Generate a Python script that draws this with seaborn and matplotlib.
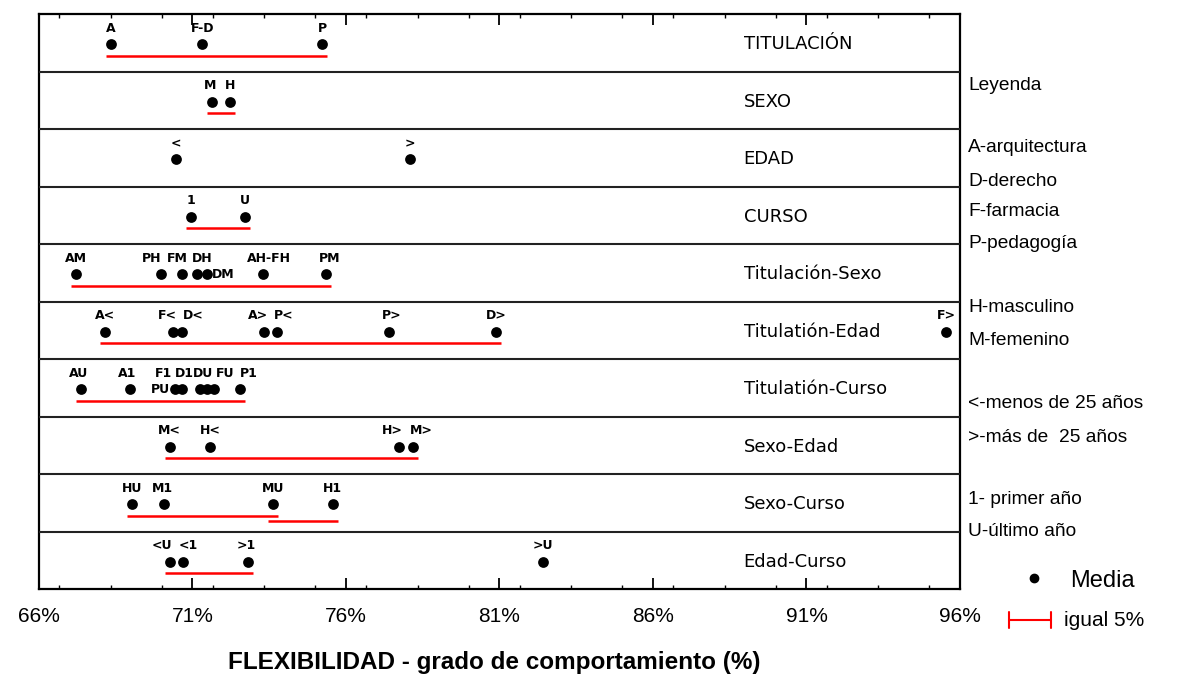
import matplotlib
matplotlib.use("Agg")
import matplotlib.pyplot as plt
from matplotlib.ticker import MultipleLocator, FixedLocator, FuncFormatter
import seaborn as sns
import pandas as pd

# ---------------- data ----------------
panel_names = ["TITULACIÓN", "SEXO", "EDAD", "CURSO", "Titulación-Sexo",
               "Titulatión-Edad", "Titulatión-Curso", "Sexo-Edad", "Sexo-Curso", "Edad-Curso"]

titulacion_labels = ["A", "F-D", "P"]
titulacion_values = [68.35, 71.32, 75.22]
sexo_labels = ["M", "H"]
sexo_values = [71.62, 72.23]
edad_labels = ["<", ">"]
edad_values = [70.45, 78.08]
curso_labels = ["1", "U"]
curso_values = [70.94, 72.72]
tit_sexo_labels = ["AM", "PH", "FM", "DH", "DM", "AH-FH", "PM"]
tit_sexo_values = [67.20, 69.96, 70.66, 71.15, 71.48, 73.31, 75.35]
tit_edad_labels = ["A<", "F<", "D<", "A>", "P<", "P>", "D>", "F>"]
tit_edad_values = [68.14, 70.37, 70.66, 73.32, 73.75, 77.40, 80.90, 95.55]
tit_curso_labels = ["AU", "A1", "PU", "F1", "D1", "DU", "FU", "P1"]
tit_curso_values = [67.36, 68.95, 70.42, 70.67, 71.26, 71.48, 71.69, 72.56]
sexo_edad_labels = ["M<", "H<", "H>", "M>"]
sexo_edad_values = [70.26, 71.58, 77.73, 78.19]
sexo_curso_labels = ["HU", "M1", "MU", "H1"]
sexo_curso_values = [69.04, 70.07, 73.61, 75.57]
edad_curso_labels = ["<U", "<1", ">1", ">U"]
edad_curso_values = [70.26, 70.68, 72.80, 82.42]

# homogeneous groups (red lines): first and last member of each group
groups = {
    0: [("A", "P")],
    1: [("M", "H")],
    3: [("1", "U")],
    4: [("AM", "PM")],
    5: [("A<", "D>")],
    6: [("AU", "P1")],
    7: [("M<", "M>")],
    8: [("HU", "MU"), ("MU", "H1")],
    9: [("<U", ">1")],
}

tick_values = [66, 71, 76, 81, 86, 91, 96]

legend_lines = ["Leyenda", "A-arquitectura", "D-derecho", "F-farmacia", "P-pedagogía",
                "H-masculino", "M-femenino", "<-menos de 25 años", ">-más de  25 años",
                "1- primer año", "U-último año"]

all_labels = [titulacion_labels, sexo_labels, edad_labels, curso_labels, tit_sexo_labels,
              tit_edad_labels, tit_curso_labels, sexo_edad_labels, sexo_curso_labels,
              edad_curso_labels]
all_values = [titulacion_values, sexo_values, edad_values, curso_values, tit_sexo_values,
              tit_edad_values, tit_curso_values, sexo_edad_values, sexo_curso_values,
              edad_curso_values]

# ---------------- styling ----------------
sns.set_style("white")
plt.rcParams['font.family'] = ['Liberation Sans', 'DejaVu Sans']
plt.rcParams['text.color'] = 'black'
plt.rcParams['xtick.color'] = 'black'

W, H = 1177, 677
fig = plt.figure(figsize=(W / 100, H / 100), dpi=100)
ax_l, ax_r, ax_t, ax_b = 39, 960, 14, 589
ax = fig.add_axes([ax_l / W, 1 - ax_b / H, (ax_r - ax_l) / W, (ax_b - ax_t) / H])

npan = len(panel_names)
point_frac = 0.47
line_frac = 0.27
line2_frac = 0.18

rows = []
for i, (labs, vals) in enumerate(zip(all_labels, all_values)):
    for lab, v in zip(labs, vals):
        rows.append({"panel": panel_names[i], "idx": i, "label": lab, "value": v,
                     "ypos": npan - 1 - i + point_frac})
df = pd.DataFrame(rows)

sns.scatterplot(data=df, x="value", y="ypos", color="black", s=60, linewidth=0,
                ax=ax, legend=False, zorder=5)

# label offsets in pixels (layout only)
label_dx = {(4, "PH"): -9, (4, "FM"): -5, (4, "DH"): 5, (4, "AH-FH"): 6, (4, "PM"): 4,
            (5, "F<"): -6, (5, "D<"): 11, (5, "A>"): -6, (5, "P<"): 7, (5, "P>"): 3,
            (6, "AU"): -2, (6, "A1"): -2, (6, "F1"): -19, (6, "D1"): -16, (6, "DU"): -4,
            (6, "FU"): 11, (6, "P1"): 8, (7, "H>"): -7, (7, "M>"): 8, (8, "M1"): -2,
            (9, "<U"): -8, (9, "<1"): 6, (9, ">1"): -2, (1, "M"): -1}
side_right = {(4, "DM")}
side_left = {(6, "PU")}

lab_font = dict(fontsize=9, fontweight="bold", family=['DejaVu Sans'], color="black")
for _, r in df.iterrows():
    key = (r["idx"], r["label"])
    if key in side_right:
        ax.annotate(r["label"], (r["value"], r["ypos"]), xytext=(5, 0),
                    textcoords="offset pixels", ha="left", va="center", **lab_font)
    elif key in side_left:
        ax.annotate(r["label"], (r["value"], r["ypos"]), xytext=(-5, 0),
                    textcoords="offset pixels", ha="right", va="center", **lab_font)
    else:
        ax.annotate(r["label"], (r["value"], r["ypos"]), xytext=(label_dx.get(key, 0), 16),
                    textcoords="offset pixels", ha="center", va="center", **lab_font)

# red homogeneity lines
pad = 0.16
for i, glist in groups.items():
    vals = dict(zip(all_labels[i], all_values[i]))
    for k, (a, b) in enumerate(glist):
        y = npan - 1 - i + (line_frac if k == 0 else line2_frac)
        ax.hlines(y, vals[a] - pad, vals[b] + pad, color="#ff0000", lw=1.8, zorder=4)

# panel separators and names
for k in range(1, npan):
    ax.axhline(k, color="#222222", lw=1.5, zorder=3)
for i, name in enumerate(panel_names):
    ax.text(0.765, (npan - 1 - i + 0.47) / npan, name, transform=ax.transAxes,
            ha="left", va="center", fontsize=13, color="black", family=['DejaVu Sans'])

ax.set_xlim(66, 96)
ax.set_ylim(0, npan)
ax.set_yticks([])
ax.xaxis.set_major_locator(FixedLocator(tick_values))
ax.xaxis.set_minor_locator(MultipleLocator(5 / 3))
ax.xaxis.set_major_formatter(FuncFormatter(lambda v, p: f"{v:.0f}%"))
ax.tick_params(axis="x", which="major", direction="in", length=8, width=1.3,
               top=True, bottom=True, labelsize=15, pad=13, colors="black")
ax.tick_params(axis="x", which="minor", direction="in", length=3, width=1.0,
               top=True, bottom=True)
for s in ax.spines.values():
    s.set_linewidth(1.6)
    s.set_color("black")
ax.set_xlabel("")
ax.set_ylabel("")

fig.text(494 / W, 1 - 662 / H, "FLEXIBILIDAD - grado de comportamiento (%)",
         ha="center", va="center", fontsize=17.5, fontweight="bold",
         family=['Liberation Sans Narrow', 'Liberation Sans'])

# right-side legend
legend_y = [85, 148, 181, 212, 243, 307, 340, 404, 437, 500, 532]
for t, y in zip(legend_lines, legend_y):
    fig.text(968 / W, 1 - y / H, t, ha="left", va="center", fontsize=13.8)

fig.text(1070 / W, 1 - 581 / H, "Media", ha="left", va="center", fontsize=17)
fig.text(1064 / W, 1 - 620 / H, "igual 5%", ha="left", va="center", fontsize=15)
lax = fig.add_axes([0, 0, 1, 1], facecolor="none")
lax.set_xlim(0, W)
lax.set_ylim(H, 0)
lax.axis("off")
lax.plot([1034], [578], "o", color="black", ms=6)
lax.plot([1009, 1051], [620, 620], color="red", lw=1.5)
lax.plot([1009, 1009], [612, 628], color="red", lw=1.5)
lax.plot([1051, 1051], [612, 628], color="red", lw=1.5)

fig.savefig("out.png", dpi=100)
